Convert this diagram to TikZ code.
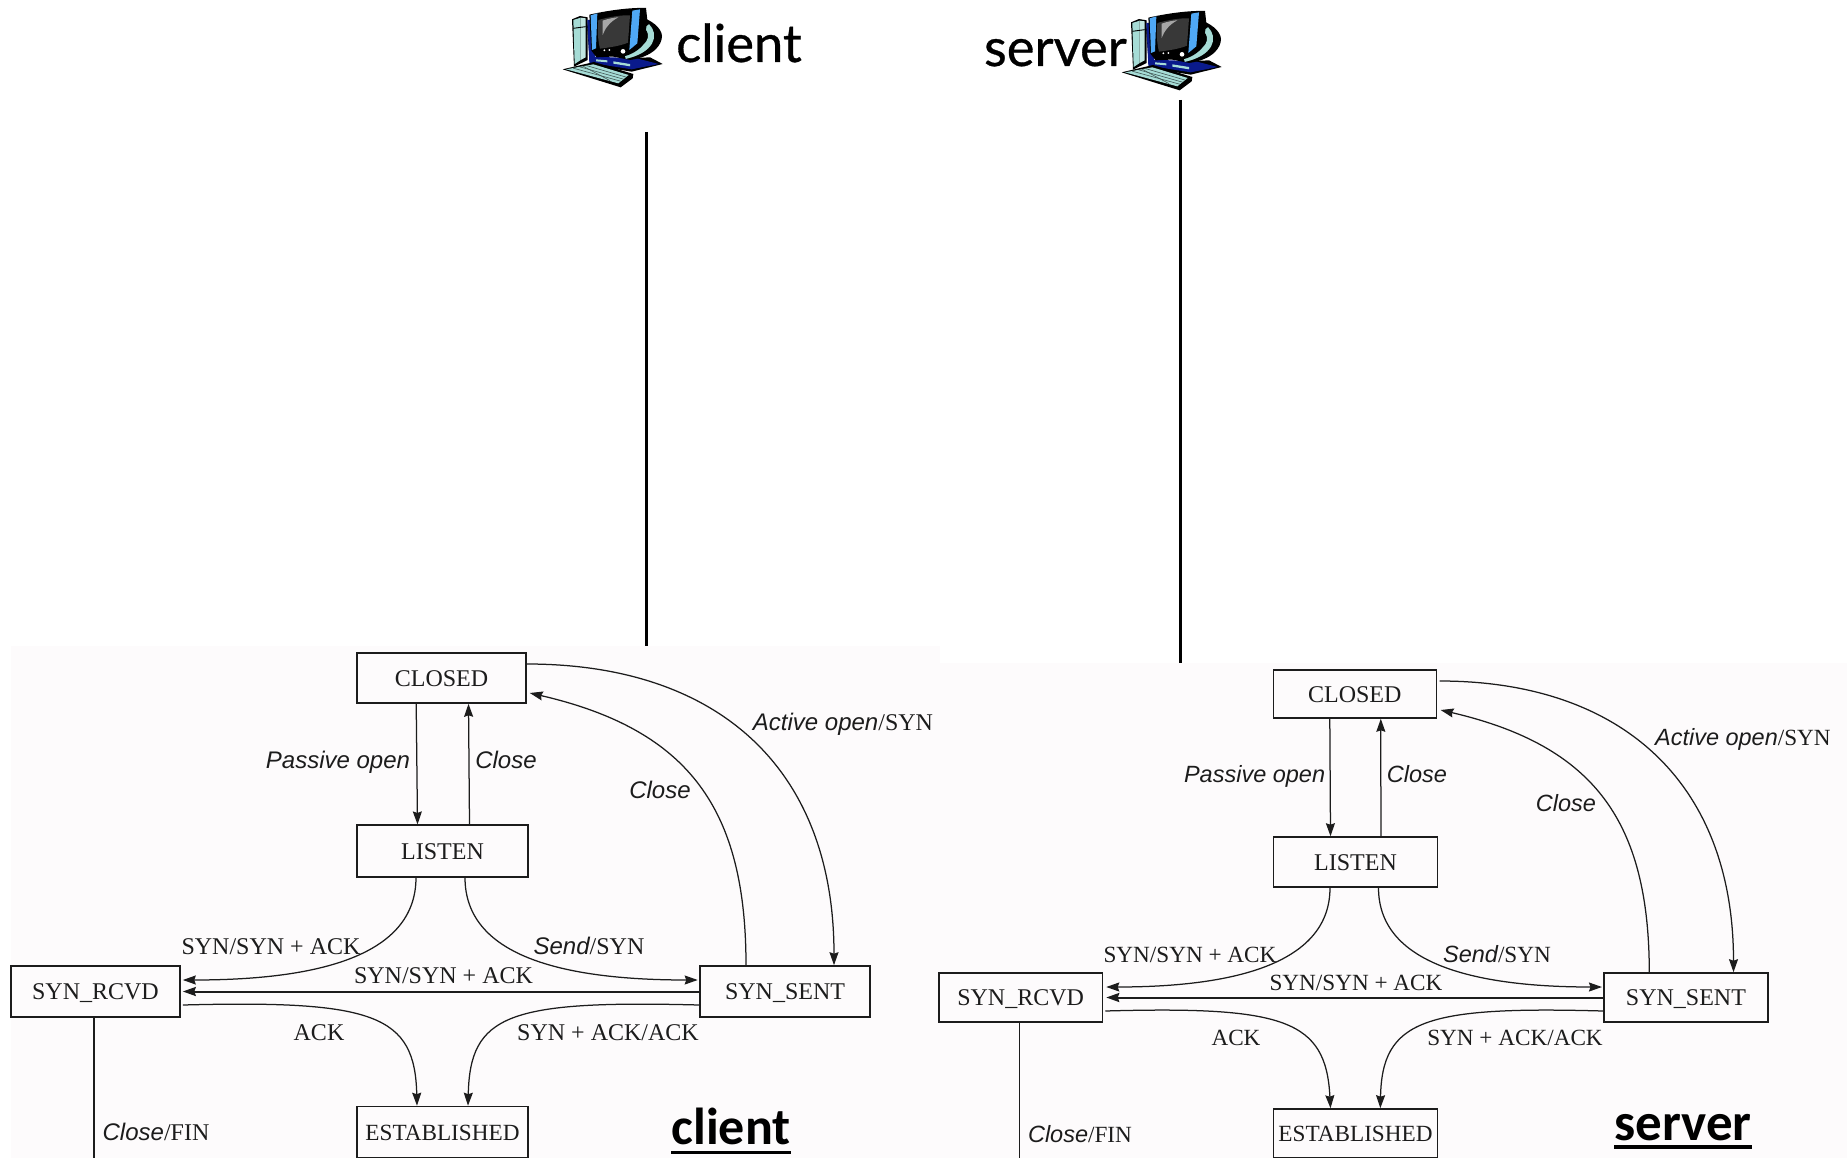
\documentclass[tikz,border=0pt]{standalone}
\usepackage{fontspec}
\setmainfont{Liberation Serif}
\newfontfamily\lblsans{Liberation Sans}
\newfontfamily\topfont[FakeBold=0.6]{Lato}
\newfontfamily\capfont{Carlito}
\usetikzlibrary{arrows.meta}
\definecolor{bgpaper}{HTML}{FDFBFC}
\definecolor{ink}{HTML}{1C1C1C}
\definecolor{pcteal}{HTML}{A6DCD6}
\definecolor{pcblue}{HTML}{4FA8F5}
\definecolor{pcnavy}{HTML}{0A1A8C}
\definecolor{pcscreen}{HTML}{383838}
\tikzset{
  statebox/.style={draw=ink,line width=1.6pt,inner sep=0pt,text=ink,text height=16pt,text depth=0pt,font=\fontsize{#1}{#1}\selectfont},
  statebox/.default=24,
  lbl/.style={inner sep=0pt,text=ink,text height=16pt,text depth=0pt,font=\fontsize{#1}{#1}\selectfont},
  lbl/.default=24,
  conn/.style={draw=ink,line width=1.25pt},
  arr/.style={conn,-{Stealth[length=13pt,width=9pt,inset=1.5pt]}},
  arrthick/.style={draw=ink,line width=2pt,-{Stealth[length=13pt,width=9pt,inset=1.5pt]}},
  timeline/.style={draw=black,line width=3pt},
  pics/computer/.style={code={
    % drawn in a 390x300 grid
    % tower
    \fill[black] (66,58) -- (90,48) -- (113,52) -- (113,180) -- (72,200) -- cycle;
    \fill[pcteal] (70,60) -- (92,53) -- (92,180) -- (74,192) -- cycle;
    \fill[pcteal!70!white] (92,53) -- (107,55) -- (107,172) -- (92,180) -- cycle;
    \draw[black,line width=.9pt] (70,85) -- (107,80);
    % navy base unit
    \fill[black] (110,60) -- (130,180) -- (300,172) -- (338,192) -- (245,215) -- (120,195) -- cycle;
    \fill[pcnavy] (112,60) -- (122,60) -- (135,170) -- (260,175) -- (326,192) -- (245,208) -- (118,188) -- cycle;
    % back of the monitor, with the teal arc
    \fill[black] (262,48) .. controls (305,58) and (335,85) .. (336,108) .. controls (336,135) and (310,170) .. (240,180) -- (190,170) -- cycle;
    \draw[pcteal,line width=6pt] (290,78) .. controls (318,105) and (305,150) .. (225,168);
    % monitor body
    \fill[black] (118,44) .. controls (170,32) and (240,22) .. (288,24) -- (292,60) -- (282,130) .. controls (270,150) and (240,165) .. (225,168) -- (140,172) -- (124,152) -- cycle;
    \fill[pcblue] (122,46) -- (142,40) -- (138,145) -- (126,150) -- cycle;
    \fill[pcblue] (247,32) -- (270,28) -- (262,130) -- (238,150) -- cycle;
    \fill[pcscreen] (145,60) .. controls (180,50) and (215,45) .. (240,46) -- (234,128) .. controls (210,138) and (180,142) .. (150,146) .. controls (143,120) and (142,85) .. (145,60) -- cycle;
    \fill[gray!70] (158,62) .. controls (175,56) and (195,52) .. (205,52) .. controls (180,65) and (165,85) .. (158,105) -- cycle;
    \fill[white] (219,154) circle (7);
    \fill[white] (163,151) circle (3) (178,150) circle (3);
    % drive slots
    \fill[pcteal] (138,178) -- (172,181) -- (172,187) -- (138,184) -- cycle;
    \fill[pcteal] (190,184) -- (240,192) -- (240,199) -- (190,191) -- cycle;
    % keyboard
    \fill[black] (38,208) -- (132,186) -- (250,222) -- (248,235) -- (212,262) -- cycle;
    \fill[pcteal] (48,208) -- (130,193) -- (236,225) -- (205,250) -- cycle;
    \foreach \k in {0.25,0.5,0.75}
      \draw[black!60!pcteal,line width=.6pt] ({48+\k*82},{208-\k*15}) -- ({205+\k*31},{250-\k*25});
    \draw[black!60!pcteal,line width=.6pt] (100,199) -- (180,242);
  }}
}
\begin{document}
\begin{tikzpicture}[x=1pt,y=-1pt]
\useasboundingbox (0,0) rectangle (1847,1158);
\fill[white] (0,0) rectangle (1847,1158);
\fill[bgpaper] (11,646) rectangle (940,1158);
\fill[bgpaper] (940,663) rectangle (1847,1158);

% ---- top ----
\pic[shift={(550,0)},scale=1/3] (pcA) {computer};
\pic[shift={(1109,3)},scale=1/3] (pcB) {computer};
\node[anchor=base west,inner sep=0pt,font=\topfont\fontsize{52.5}{52.5}\selectfont] (tclient) at (676,62) {client};
\node[anchor=base east,inner sep=0pt,font=\topfont\fontsize{52.5}{52.5}\selectfont] (tserver) at (1127,66) {server};
\coordinate (tla) at (646,132);
\coordinate (tlb) at (646,646);
\coordinate (tlc) at (1180.5,100);
\coordinate (tld) at (1180.5,663);
\draw[timeline] (tla) -- (tlb);
\draw[timeline] (tlc) -- (tld);

% ---- client ----
\node[statebox,minimum width=169pt,minimum height=50pt] (cclosed) at (441.5,678) {CLOSED};
\node[statebox,minimum width=171pt,minimum height=51.5pt] (clisten) at (442.5,851) {LISTEN};
\node[statebox,minimum width=169pt,minimum height=51pt] (crcvd) at (95.5,991.5) {SYN\_RCVD};
\node[statebox,minimum width=170pt,minimum height=51pt] (csent) at (785,991.5) {SYN\_SENT};
\node[statebox=23.2,minimum width=171pt,minimum height=51pt] (cest) at (442.5,1132) {ESTABLISHED};
\coordinate (cdown) at (94,1158);

\draw[arr] ([xshift=60pt]cclosed.south west) -- ([xshift=-25pt]clisten.north);
\draw[arr] ([xshift=27pt]clisten.north) -- ([xshift=27pt]cclosed.south);
\draw[arr] ([yshift=14pt]cclosed.east) .. controls (720,664) and (834,770) .. ([xshift=49pt]csent.north);
\draw[arr] ([xshift=-39pt]csent.north) .. controls (746,810) and (690,730) .. ([yshift=-15pt,xshift=3pt]cclosed.east);
\draw[arr] ([xshift=-26.5pt]clisten.south) .. controls (416,955) and (320,980) .. ([yshift=11.5pt,xshift=2pt]crcvd.east);
\draw[arr] ([xshift=22.5pt]clisten.south) .. controls (465,955) and (560,980) .. ([yshift=11.5pt,xshift=-1.5pt]csent.west);
\draw[arrthick] (csent.west) -- ([xshift=2pt]crcvd.east);
\draw[arr] ([yshift=-13.5pt,xshift=2pt]crcvd.east) .. controls (375,1000) and (415,1015) .. ([xshift=-25.5pt]cest.north);
\draw[arr] ([yshift=-13.5pt]csent.west) .. controls (507,1000) and (470,1015) .. ([xshift=25.5pt]cest.north);
\draw[conn] (crcvd.south -| cdown) -- (cdown);

\node[lbl,font=\lblsans\itshape\fontsize{24}{24}\selectfont] (cl1) at (338,760) {Passive open};
\node[lbl,font=\lblsans\itshape\fontsize{24}{24}\selectfont] (cl2) at (506,760) {Close};
\node[lbl] (cl3) at (843,722) {{\lblsans\itshape\fontsize{24}{24}\selectfont Active open}/SYN};
\node[lbl,font=\lblsans\itshape\fontsize{24}{24}\selectfont] (cl4) at (660,790) {Close};
\node[lbl] (cl5) at (271,946) {SYN/SYN + ACK};
\node[lbl] (cl6) at (589,946) {{\lblsans\itshape\fontsize{24}{24}\selectfont Send}/SYN};
\node[lbl] (cl7) at (443.5,975) {SYN/SYN + ACK};
\node[lbl] (cl8) at (319,1032) {ACK};
\node[lbl] (cl9) at (608,1032) {SYN + ACK/ACK};
\node[lbl] (cl10) at (156,1132) {{\lblsans\itshape\fontsize{24}{24}\selectfont Close}/FIN};
\node[anchor=base,inner sep=0pt,font=\capfont\bfseries\fontsize{52}{52}\selectfont,text depth=0pt] (ccap) at (731,1144) {client};
\draw[black,line width=3.5pt] ([yshift=-8.5pt]ccap.south west) -- ([yshift=-8.5pt]ccap.south east);

% ---- server ----
\node[statebox,minimum width=163pt,minimum height=48pt] (sclosed) at (1354.8,694) {CLOSED};
\node[statebox,minimum width=164.3pt,minimum height=50pt] (slisten) at (1355.5,862) {LISTEN};
\node[statebox,minimum width=163.7pt,minimum height=49pt] (srcvd) at (1020.6,997.5) {SYN\_RCVD};
\node[statebox,minimum width=164.3pt,minimum height=49pt] (ssent) at (1685.9,997.5) {SYN\_SENT};
\node[statebox=23.2,minimum width=164.3pt,minimum height=49pt] (sest) at (1355.5,1133.5) {ESTABLISHED};
\coordinate (sdown) at (1019.5,1158);

\draw[arr] ([xshift=57.3pt]sclosed.south west) -- ([xshift=-25pt]slisten.north);
\draw[arr] ([xshift=25.4pt]slisten.north) -- ([xshift=26pt]sclosed.south);
\draw[arr] ([yshift=13pt,xshift=2.5pt]sclosed.east) .. controls (1624,681) and (1733.5,785) .. ([xshift=47.6pt]ssent.north);
\draw[arr] ([xshift=-36.6pt]ssent.north) .. controls (1649,822) and (1595,746) .. ([yshift=-16pt,xshift=3.5pt]sclosed.east);
\draw[arr] ([xshift=-25.5pt]slisten.south) .. controls (1330,962) and (1238,987) .. ([yshift=10.5pt,xshift=3pt]srcvd.east);
\draw[arr] ([xshift=23pt]slisten.south) .. controls (1378.5,962) and (1470,987) .. ([yshift=10.5pt,xshift=-1pt]ssent.west);
\draw[arrthick] (ssent.west) -- ([xshift=3pt]srcvd.east);
\draw[arr] ([yshift=-13.5pt,xshift=2pt]srcvd.east) .. controls (1285,1006) and (1326,1020) .. ([xshift=-25pt]sest.north);
\draw[arr] ([yshift=-13.5pt]ssent.west) .. controls (1424,1006) and (1382,1020) .. ([xshift=24.8pt]sest.north);
\draw[conn] (srcvd.south -| sdown) -- (sdown);

\node[lbl,font=\lblsans\itshape\fontsize{23.5}{24}\selectfont] (sl1) at (1254.6,774) {Passive open};
\node[lbl,font=\lblsans\itshape\fontsize{23.5}{24}\selectfont] (sl2) at (1417,774) {Close};
\node[lbl=23.2] (sl3) at (1742.9,737) {{\lblsans\itshape\fontsize{23.5}{24}\selectfont Active open}/SYN};
\node[lbl,font=\lblsans\itshape\fontsize{23.5}{24}\selectfont] (sl4) at (1566,803) {Close};
\node[lbl=23.2] (sl5) at (1190,954) {SYN/SYN + ACK};
\node[lbl=23.2] (sl6) at (1497,954) {{\lblsans\itshape\fontsize{23.5}{24}\selectfont Send}/SYN};
\node[lbl=23.2] (sl7) at (1356,982) {SYN/SYN + ACK};
\node[lbl=23.2] (sl8) at (1236,1037) {ACK};
\node[lbl=23.2] (sl9) at (1515,1037) {SYN + ACK/ACK};
\node[lbl=23.2] (sl10) at (1080,1134) {{\lblsans\itshape\fontsize{23.5}{24}\selectfont Close}/FIN};
\node[anchor=base,inner sep=0pt,font=\capfont\bfseries\fontsize{53}{53}\selectfont,text depth=0pt] (scap) at (1683,1140) {server};
\draw[black,line width=3.5pt] ([yshift=-7pt]scap.south west) -- ([yshift=-7pt]scap.south east);
\end{tikzpicture}
\end{document}
